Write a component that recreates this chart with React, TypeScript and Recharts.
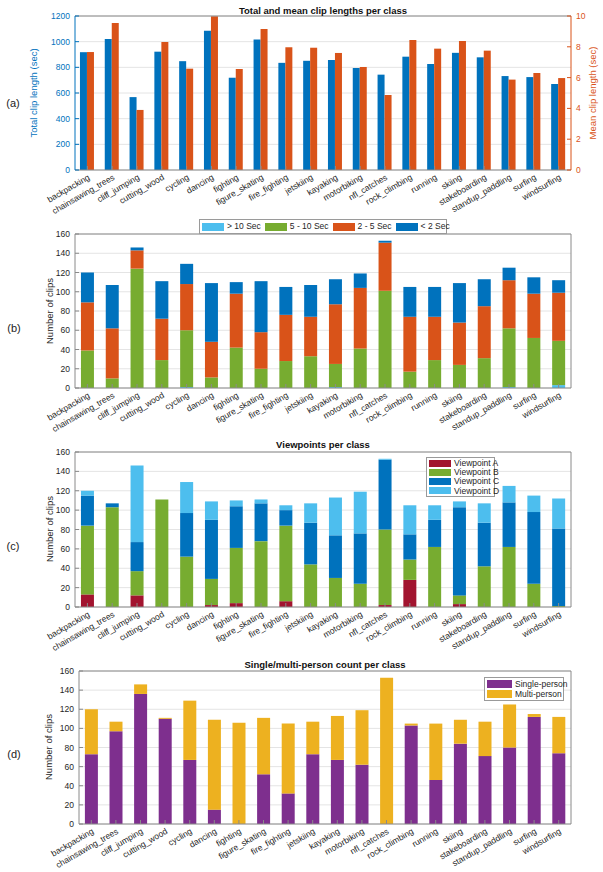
import React from 'react';
import { BarChart, Bar, XAxis, YAxis, CartesianGrid } from 'recharts';

const classes = [
  'backpacking', 'chainsawing_trees', 'cliff_jumping', 'cutting_wood', 'cycling',
  'dancing', 'fighting', 'figure_skating', 'fire_fighting', 'jetskiing',
  'kayaking', 'motorbiking', 'nfl_catches', 'rock_climbing', 'running',
  'skiing', 'stakeboarding', 'standup_paddling', 'surfing', 'windsurfing',
];

const totalLength = [918, 1020, 568, 922, 848, 1086, 719, 1016, 835, 851, 857, 795, 743, 883, 826, 913, 878, 732, 724, 670];
const meanLength = [7.66, 9.55, 3.9, 8.31, 6.58, 9.98, 6.56, 9.16, 7.97, 7.94, 7.6, 6.69, 4.87, 8.44, 7.88, 8.38, 7.75, 5.87, 6.3, 5.97];

const durOver10 = [0, 0, 0, 0, 1, 0, 0, 0, 0, 0, 1, 0, 0, 0, 0, 0, 0, 1, 0, 3];
const dur5to10 = [39, 10, 124, 29, 59, 11, 42, 20, 28, 33, 24, 41, 101, 17, 29, 24, 31, 61, 52, 46];
const dur2to5 = [50, 52, 19, 43, 48, 37, 56, 38, 48, 41, 62, 63, 50, 57, 45, 44, 54, 50, 46, 50];
const durUnder2 = [31, 45, 3, 39, 21, 61, 12, 53, 29, 33, 26, 15, 2, 31, 31, 41, 28, 13, 17, 13];

const viewA = [13, 0, 12, 0, 0, 2, 4, 0, 6, 0, 0, 0, 2, 28, 0, 3, 0, 0, 0, 0];
const viewB = [71, 103, 25, 111, 52, 27, 57, 68, 78, 44, 30, 24, 78, 21, 62, 9, 42, 62, 24, 1];
const viewC = [31, 4, 30, 0, 45, 61, 43, 39, 16, 43, 44, 52, 72, 26, 28, 91, 45, 46, 74, 80];
const viewD = [5, 0, 79, 0, 32, 19, 6, 4, 5, 20, 39, 43, 1, 30, 15, 6, 20, 17, 17, 31];

const singlePerson = [73, 97, 136, 110, 67, 15, 0, 52, 32, 73, 67, 62, 0, 103, 46, 84, 71, 80, 112, 74];
const multiPerson = [47, 10, 10, 1, 62, 94, 106, 59, 73, 34, 46, 57, 153, 2, 59, 25, 36, 45, 3, 38];

const lengthTicks = [0, 200, 400, 600, 800, 1000, 1200];
const meanTicks = [0, 2, 4, 6, 8, 10];
const countTicks = [0, 20, 40, 60, 80, 100, 120, 140, 160];

const lengthData = classes.map((name, i) => ({ name, total: totalLength[i], mean: meanLength[i] }));
const durationData = classes.map((name, i) => ({
  name, over10: durOver10[i], d5to10: dur5to10[i], d2to5: dur2to5[i], under2: durUnder2[i],
}));
const viewData = classes.map((name, i) => ({ name, a: viewA[i], b: viewB[i], c: viewC[i], d: viewD[i] }));
const personData = classes.map((name, i) => ({ name, single: singlePerson[i], multi: multiPerson[i] }));

type Series = { key: string; name: string; color: string };

const durationSeries: Series[] = [
  { key: 'over10', name: '> 10 Sec', color: '#4DBEEE' },
  { key: 'd5to10', name: '5 - 10 Sec', color: '#77AC30' },
  { key: 'd2to5', name: '2 - 5 Sec', color: '#D95319' },
  { key: 'under2', name: '< 2 Sec', color: '#0072BD' },
];
const viewSeries: Series[] = [
  { key: 'a', name: 'Viewpoint A', color: '#A2142F' },
  { key: 'b', name: 'Viewpoint B', color: '#77AC30' },
  { key: 'c', name: 'Viewpoint C', color: '#0072BD' },
  { key: 'd', name: 'Viewpoint D', color: '#4DBEEE' },
];
const personSeries: Series[] = [
  { key: 'single', name: 'Single-person', color: '#7E2F8E' },
  { key: 'multi', name: 'Multi-person', color: '#EDB120' },
];

const FONT = '"Liberation Sans", Arial, Helvetica, sans-serif';
const AX = '#262626';
const AXL = '#8a8a8a';
const GRID = '#e4e4e4';
const W = 603;
const PLOT_RIGHT = 571;
const BOTTOM_AXIS = 48;

function CatTick(props: any) {
  const { x, y, payload } = props;
  const tx = x + 3;
  const ty = y + 9;
  return (
    <text
      x={tx}
      y={ty}
      transform={`rotate(-30 ${tx} ${ty})`}
      textAnchor="end"
      fontSize={8.5}
      fill={AX}
      fontFamily={FONT}
    >
      {payload.value}
    </text>
  );
}

function Abs({ x, y, children, style }: any) {
  return (
    <div
      style={{
        position: 'absolute', left: x, top: y, transform: 'translate(-50%, -50%)',
        whiteSpace: 'nowrap', lineHeight: 1, fontFamily: FONT, ...style,
      }}
    >
      {children}
    </div>
  );
}

function YTitle({ x, y, children, color }: any) {
  return (
    <div
      style={{
        position: 'absolute', left: x, top: y, transform: 'translate(-50%, -50%) rotate(-90deg)',
        whiteSpace: 'nowrap', lineHeight: 1, fontFamily: FONT, fontSize: 9.5, color: color || AX,
      }}
    >
      {children}
    </div>
  );
}

function LegendBox({ series, x, y, w, h, vertical, swW, swH }: any) {
  return (
    <div
      style={{
        position: 'absolute', left: x, top: y, width: w, height: h, boxSizing: 'border-box',
        border: '1px solid #9a9a9a', background: '#fff', display: 'flex',
        flexDirection: vertical ? 'column' : 'row', justifyContent: vertical ? 'space-evenly' : 'flex-start',
        alignItems: vertical ? 'flex-start' : 'center', padding: vertical ? '0 2px' : '0 2px',
        fontFamily: FONT, fontSize: 8.5, lineHeight: 1, color: AX, overflow: 'visible',
      }}
    >
      {series.map((s: Series) => (
        <div key={s.key} style={{ display: 'flex', alignItems: 'center', marginRight: vertical ? 0 : 4, whiteSpace: 'nowrap', lineHeight: 1, height: vertical ? 8.5 : undefined }}>
          <div style={{ width: swW, height: swH, background: s.color, marginRight: 3, flex: 'none' }} />
          <span style={{ lineHeight: 1 }}>{s.name}</span>
        </div>
      ))}
    </div>
  );
}

function StackPanel({ top, plotTop, plotBottom, plotLeft, data, series }: any) {
  const H = plotBottom - top + BOTTOM_AXIS;
  return (
    <div style={{ position: 'absolute', left: 0, top, width: W, height: H }}>
      <BarChart width={W} height={H} data={data} margin={{ top: 0, right: 0, bottom: 0, left: 0 }} barCategoryGap="24%">
        <CartesianGrid vertical={false} stroke={GRID} />
        <XAxis xAxisId="top" orientation="top" dataKey="name" height={plotTop - top} interval={0} tick={false} tickSize={-4} stroke={AXL} />
        <XAxis dataKey="name" height={BOTTOM_AXIS} interval={0} tick={<CatTick />} tickSize={-4} tickMargin={4} stroke={AXL} />
        <YAxis
          width={plotLeft} domain={[0, 160]} ticks={countTicks} interval={0} tickSize={-4} tickMargin={9}
          tick={{ fontSize: 8.5, fill: AX, fontFamily: FONT }} stroke={AXL}
        />
        <YAxis yAxisId="r" orientation="right" width={W - PLOT_RIGHT} domain={[0, 160]} ticks={countTicks} interval={0} tick={false} tickSize={-4} stroke={AXL} />
        {series.map((s: Series) => (
          <Bar key={s.key} dataKey={s.key} stackId="s" name={s.name} fill={s.color} isAnimationActive={false} />
        ))}
      </BarChart>
    </div>
  );
}

function LengthPanel() {
  const top = 0;
  const plotTop = 16;
  const plotBottom = 170;
  const H = plotBottom - top + BOTTOM_AXIS;
  return (
    <div style={{ position: 'absolute', left: 0, top, width: W, height: H }}>
      <BarChart width={W} height={H} data={lengthData} margin={{ top: 0, right: 0, bottom: 0, left: 0 }} barCategoryGap="20%" barGap={0}>
        <CartesianGrid vertical={false} stroke={GRID} yAxisId="L" />
        <XAxis xAxisId="top" orientation="top" dataKey="name" height={plotTop - top} interval={0} tick={false} tickSize={-4} stroke={AXL} />
        <XAxis dataKey="name" height={BOTTOM_AXIS} interval={0} tick={<CatTick />} tickSize={-4} tickMargin={4} stroke={AXL} />
        <YAxis
          yAxisId="L" width={75} domain={[0, 1200]} ticks={lengthTicks} interval={0} tickSize={-4} tickMargin={9}
          tick={{ fontSize: 8.5, fill: '#0072BD', fontFamily: FONT }} stroke="#0072BD"
        />
        <YAxis
          yAxisId="R" orientation="right" width={W - PLOT_RIGHT} domain={[0, 10]} ticks={meanTicks} interval={0} tickSize={-4} tickMargin={9}
          tick={{ fontSize: 8.5, fill: '#D95319', fontFamily: FONT }} stroke="#D95319"
        />
        <Bar yAxisId="L" dataKey="total" name="Total clip length" fill="#0072BD" isAnimationActive={false} />
        <Bar yAxisId="R" dataKey="mean" name="Mean clip length" fill="#D95319" isAnimationActive={false} />
      </BarChart>
    </div>
  );
}

export default function App() {
  return (
    <div style={{ position: 'absolute', left: 0, top: 0, width: W, height: 872, background: '#fff', overflow: 'hidden' }}>
      <LengthPanel />
      <StackPanel top={200} plotTop={234} plotBottom={388} plotLeft={75} data={durationData} series={durationSeries} />
      <StackPanel top={420} plotTop={452} plotBottom={607} plotLeft={75} data={viewData} series={viewSeries} />
      <StackPanel top={640} plotTop={671} plotBottom={824} plotLeft={79} data={personData} series={personSeries} />

      <Abs x={323} y={11} style={{ fontSize: 9.5, fontWeight: 'bold', color: '#111' }}>Total and mean clip lengths per class</Abs>
      <Abs x={323} y={445} style={{ fontSize: 9.5, fontWeight: 'bold', color: '#111' }}>Viewpoints per class</Abs>
      <Abs x={325} y={665} style={{ fontSize: 9.5, fontWeight: 'bold', color: '#111' }}>Single/multi-person count per class</Abs>

      <YTitle x={34} y={93} color="#0072BD">Total clip length (sec)</YTitle>
      <YTitle x={593} y={93} color="#D95319">Mean clip length (sec)</YTitle>
      <YTitle x={50} y={311}>Number of clips</YTitle>
      <YTitle x={50} y={529}>Number of clips</YTitle>
      <YTitle x={49} y={747}>Number of clips</YTitle>

      <Abs x={13} y={103} style={{ fontSize: 11, color: '#222' }}>(a)</Abs>
      <Abs x={14} y={328} style={{ fontSize: 11, color: '#222' }}>(b)</Abs>
      <Abs x={13} y={546} style={{ fontSize: 11, color: '#222' }}>(c)</Abs>
      <Abs x={14} y={754} style={{ fontSize: 11, color: '#222' }}>(d)</Abs>

      <LegendBox series={durationSeries} x={199} y={219} w={248} h={15} swW={22} swH={8} />
      <LegendBox series={viewSeries} x={426} y={457} w={69} h={40} vertical swW={22} swH={7} />
      <LegendBox series={personSeries} x={484} y={677} w={80} h={24} vertical swW={25} swH={8} />
    </div>
  );
}
